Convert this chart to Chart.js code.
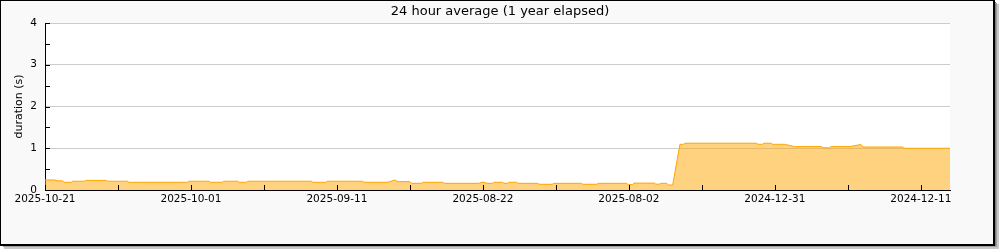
<!DOCTYPE html>
<html><head><meta charset="utf-8">
<script src="https://cdn.jsdelivr.net/npm/chart.js@4.4.1/dist/chart.umd.min.js"></script>
<style>html,body{margin:0;padding:0;background:#fff}#wrap{position:relative;width:1000px;height:250px}canvas{display:block}</style>
</head><body><div id="wrap"><canvas id="c" width="1000" height="250"></canvas></div>
<script>
// x axis: days elapsed from the first label (category-style date labels every 20 days)
const tickLabels = ["2025-10-21","2025-10-01","2025-09-11","2025-08-22","2025-08-02","2024-12-31","2024-12-11"];
// level segments: start day, end day, value (s)
const segStart = [0, 1.5, 2.6, 3.8, 5.6, 8.6, 11.5, 19.7, 22.7, 24.5, 26.6, 27.8, 36.7, 38.7, 43.7, 47.9, 48.4, 50.2, 51.8, 54.7, 60.0, 60.6, 61.5, 62.9, 63.6, 64.8, 67.7, 69.7, 73.7, 75.8, 79.9, 80.7, 83.7, 84.4, 85.4, 87.0, 87.7, 97.7, 98.5, 99.7, 102.7, 106.6, 107.7, 111.8, 112.1, 117.7];
const segEnd   = [1.4, 2.4, 3.6, 5.4, 8.4, 11.3, 19.5, 22.5, 24.3, 26.4, 27.6, 36.5, 38.5, 43.5, 47.0, 47.9, 50.0, 51.6, 54.5, 59.4, 60.0, 61.3, 62.7, 63.4, 64.6, 67.5, 69.5, 73.5, 75.6, 79.7, 80.5, 83.5, 84.2, 85.2, 86.0, 87.5, 97.5, 98.3, 99.5, 101.3, 106.4, 107.5, 110.3, 111.8, 117.5, 124];
const segValue = [0.24, 0.22, 0.185, 0.21, 0.23, 0.21, 0.185, 0.21, 0.185, 0.21, 0.185, 0.21, 0.185, 0.21, 0.185, 0.24, 0.2, 0.16, 0.185, 0.16, 0.19, 0.16, 0.185, 0.16, 0.185, 0.16, 0.137, 0.16, 0.137, 0.16, 0.13, 0.165, 0.14, 0.16, 0.12, 1.095, 1.12, 1.095, 1.12, 1.095, 1.04, 1.01, 1.04, 1.09, 1.03, 1.0];
const yTicks = [0, 1, 2, 3, 4];

const points = [];
for (let i = 0; i < segStart.length; i++) {
  points.push({x: segStart[i], y: segValue[i]});
  if (segEnd[i] !== segStart[i]) points.push({x: segEnd[i], y: segValue[i]});
}

const FONT = "'DejaVu Sans', sans-serif";

const framePlugin = {
  id: 'frame',
  beforeDraw(chart) {
    const ctx = chart.ctx, a = chart.chartArea;
    ctx.save();
    ctx.fillStyle = '#ffffff';
    ctx.fillRect(0, 0, 1000, 250);
    // shadow
    ctx.fillStyle = '#c8c8c8'; ctx.fillRect(4, 4, 995, 245);
    ctx.fillStyle = '#a0a0a0'; ctx.fillRect(3, 3, 994, 244);
    ctx.fillStyle = '#808080'; ctx.fillRect(2, 2, 994, 244);
    // frame
    ctx.fillStyle = '#000000'; ctx.fillRect(0, 0, 995, 246);
    ctx.fillStyle = '#f9f9f9'; ctx.fillRect(1, 1, 992, 243);
    // plot area
    ctx.fillStyle = '#ffffff';
    ctx.fillRect(a.left, a.top, a.right - a.left, a.bottom - a.top);
    // title
    ctx.fillStyle = '#000';
    ctx.font = "13px " + FONT;
    ctx.textAlign = 'center';
    ctx.textBaseline = 'middle';
    ctx.fillText('24 hour average (1 year elapsed)', 500, 12);
    ctx.restore();
  },
  afterDraw(chart) {
    const ctx = chart.ctx, a = chart.chartArea;
    const xs = chart.scales.x, ys = chart.scales.y;
    ctx.save();
    ctx.strokeStyle = '#000';
    ctx.lineWidth = 1;
    ctx.beginPath();
    ys.ticks.forEach(t => {
      const y = Math.round(ys.getPixelForValue(t.value)) + 0.5;
      ctx.moveTo(a.left, y); ctx.lineTo(a.left + 5, y);
    });
    xs.ticks.forEach(t => {
      if (t.value % 10 !== 0) return;
      const x = Math.round(xs.getPixelForValue(t.value)) + 0.5;
      ctx.moveTo(x, a.bottom); ctx.lineTo(x, a.bottom - 5);
    });
    ctx.stroke();
    ctx.restore();
  }
};

new Chart(document.getElementById('c'), {
  type: 'line',
  data: {
    datasets: [{
      data: points,
      borderColor: '#ffa500',
      backgroundColor: 'rgba(255,165,0,0.5)',
      borderWidth: 1,
      fill: 'origin',
      pointRadius: 0,
      tension: 0
    }]
  },
  options: {
    responsive: false,
    animation: false,
    events: [],
    layout: { padding: { left: 13, top: 23, right: 50, bottom: 0 } },
    plugins: { legend: { display: false }, title: { display: false }, tooltip: { enabled: false } },
    scales: {
      x: {
        type: 'linear', min: 0, max: 124,
        grid: { display: false, drawTicks: false },
        border: { display: true, color: '#000', width: 1 },
        ticks: {
          stepSize: 10, autoSkip: false, maxRotation: 0, padding: 3,
          color: '#000', font: { family: FONT, size: 10.5 },
          callback: v => (v % 20 === 0 && tickLabels[v / 20] !== undefined) ? tickLabels[v / 20] : ''
        },
        afterFit: s => { s.height = 60; }
      },
      y: {
        min: 0, max: 4,
        grid: {
          drawTicks: false,
          color: c => (c.tick && c.tick.value > 0 && yTicks.includes(c.tick.value)) ? '#cccccc' : 'rgba(0,0,0,0)'
        },
        border: { display: true, color: '#000', width: 1 },
        ticks: {
          stepSize: 0.5, autoSkip: false, padding: 8,
          color: '#000', font: { family: FONT, size: 10.5 },
          callback: v => yTicks.includes(v) ? String(v) : ''
        },
        title: { display: true, text: 'duration (s)', color: '#000', font: { family: FONT, size: 11 }, padding: 0 },
        afterFit: s => { s.width = 32; }
      }
    }
  },
  plugins: [framePlugin]
});
</script>
</body></html>
